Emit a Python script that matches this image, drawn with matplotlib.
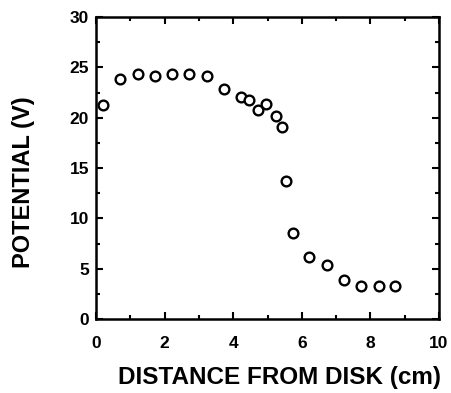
import matplotlib
matplotlib.use("Agg")
import matplotlib.pyplot as plt
from matplotlib.ticker import MultipleLocator

distance = [0.21, 0.70, 1.21, 1.73, 2.21, 2.71, 3.23, 3.74, 4.23, 4.45, 4.72, 4.95,
            5.26, 5.43, 5.53, 5.73, 6.22, 6.73, 7.23, 7.72, 8.24, 8.73]
potential = [21.3, 23.8, 24.3, 24.1, 24.3, 24.3, 24.1, 22.8, 22.1, 21.8, 20.8, 21.4,
             20.2, 19.1, 13.7, 8.5, 6.2, 5.4, 3.9, 3.3, 3.3, 3.3]

plt.rcParams['font.family'] = ['Liberation Sans', 'DejaVu Sans']
plt.rcParams['font.weight'] = 'bold'

fig = plt.figure(figsize=(4.51, 3.93), dpi=100)
ax = fig.add_axes([0.2129, 0.1883, 0.7605, 0.7684])
ax.plot(distance, potential, linestyle='none', marker='o', markersize=7,
        markerfacecolor='white', markeredgecolor='black', markeredgewidth=1.7)
ax.set_xlim(0, 10)
ax.set_ylim(0, 30)
ax.xaxis.set_major_locator(MultipleLocator(2))
ax.xaxis.set_minor_locator(MultipleLocator(1))
ax.yaxis.set_major_locator(MultipleLocator(5))
ax.yaxis.set_minor_locator(MultipleLocator(2.5))
ax.tick_params(which='both', direction='in', top=True, right=True, width=1.5)
ax.tick_params(which='major', length=5, labelsize=12.5)
ax.tick_params(axis='x', which='major', pad=12)
ax.tick_params(axis='y', which='major', pad=5)
ax.tick_params(which='minor', length=3)
for s in ax.spines.values():
    s.set_linewidth(1.8)
for lab in ax.get_xticklabels() + ax.get_yticklabels():
    lab.set_fontweight('heavy')
ax.set_xlabel('DISTANCE FROM DISK (cm)', fontsize=17.5, fontweight='bold', va='center')
ax.xaxis.set_label_coords(0.534, -0.195)
ax.set_ylabel('POTENTIAL (V)', fontsize=17, fontweight='bold', va='center')
ax.yaxis.set_label_coords(-0.21, 0.454)
fig.savefig('out.png', dpi=100)
